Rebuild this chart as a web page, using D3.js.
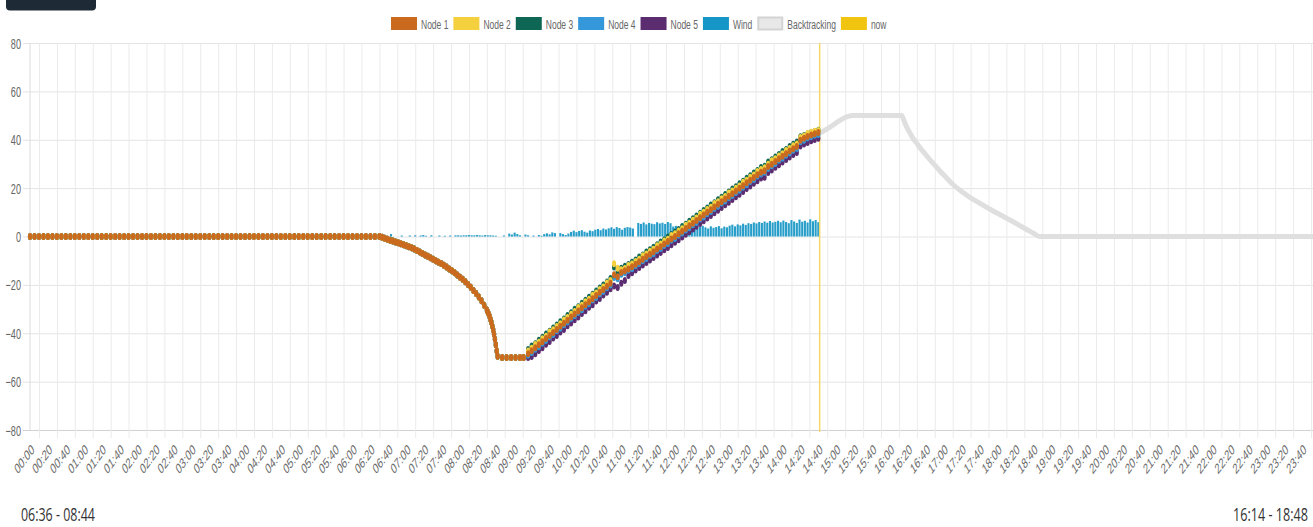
<!DOCTYPE html>
<html><head><meta charset="utf-8">
<script src="https://cdn.jsdelivr.net/npm/d3@7/dist/d3.min.js"></script>
<style>body{margin:0;background:#fff;overflow:hidden}svg{display:block}</style>
</head><body>
<svg id="chart" width="1313" height="527"></svg>
<script>
// ---------------- DATA ----------------
const seriesNames = ["Node 1","Node 2","Node 3","Node 4","Node 5","Wind","Backtracking","now"];
const yTicks = [-80,-60,-40,-20,0,20,40,60,80];
const tickLabels = ["00:00","00:20","00:40","01:00","01:20","01:40","02:00","02:20","02:40","03:00","03:20","03:40",
"04:00","04:20","04:40","05:00","05:20","05:40","06:00","06:20","06:40","07:00","07:20","07:40",
"08:00","08:20","08:40","09:00","09:20","09:40","10:00","10:20","10:40","11:00","11:20","11:40",
"12:00","12:20","12:40","13:00","13:20","13:40","14:00","14:20","14:40","15:00","15:20","15:40",
"16:00","16:20","16:40","17:00","17:20","17:40","18:00","18:20","18:40","19:00","19:20","19:40",
"20:00","20:20","20:40","21:00","21:20","21:40","22:00","22:20","22:40","23:00","23:20","23:40"];

// night stow (all nodes identical), one sample every 5 minutes starting at minute -10
const flatStart = -10, flatStep = 5;
const flatValues = [0,0,0,0,0,0,0,0,0,0, 0,0,0,0,0,0,0,0,0,0, 0,0,0,0,0,0,0,0,0,0,
0,0,0,0,0,0,0,0,0,0, 0,0,0,0,0,0,0,0,0,0, 0,0,0,0,0,0,0,0,0,0, 0,0,0,0,0,0,0,0,0,0, 0,0,0,0,0,0,0,0,0];

// morning backtracking descent (all nodes identical), [minute of day]
const descentMinutes = [383,386,389,392,395,398,401,404,407,410,413,416,419,422,425,428,431,434,437,440,
443,446,449,452,455,458,461,464,467,470,473,476,479,482,485,488,491,494,497,500,
501,502,503,504,505,506,507,508,509,510,511,512,517,522,527,532,537,541];
const descentValues = [-0.3,-0.7,-1.1,-1.5,-1.9,-2.3,-2.6,-3.0,-3.4,-3.8,-4.2,-4.7,-5.2,-5.8,-6.4,-7.0,-7.6,-8.2,-8.8,-9.4,
-10.0,-10.6,-11.2,-11.9,-12.6,-13.4,-14.2,-15.0,-15.9,-16.8,-17.7,-18.7,-19.8,-21.0,-22.3,-23.6,-25.0,-26.6,-28.4,-30.4,
-31.2,-32.0,-33.0,-34.2,-35.5,-37.0,-38.6,-40.4,-42.5,-44.8,-47.3,-49.5,-50,-50,-50,-50,-50,-50];

// tracking phase, one sample every 4 minutes from 09:06
const riseStart = 546, riseStep = 4;
const node1 = [-48.5,-47.2,-46.0,-44.8,-43.5,-42.2,-40.9,-39.7,-38.4,-37.1,
-35.9,-34.6,-33.3,-32.0,-30.8,-29.5,-28.2,-27.0,-25.7,-24.4,
-23.1,-21.9,-20.6,-19.3,-15.8,-16.6,-14.9,-14.2,-13.4,-12.5,
-11.5,-10.4,-9.4,-8.3,-7.3,-6.3,-5.2,-4.2,-3.1,-2.1,
-1.0,0.0,1.1,2.2,3.3,4.4,5.5,6.6,7.8,8.9,
10.0,11.1,12.2,13.3,14.4,15.5,16.6,17.7,18.8,19.9,
21.0,22.2,23.3,24.4,25.5,26.6,27.2,28.9,29.9,31.0,
32.1,33.2,34.2,35.3,36.3,37.2,39.8,40.6,41.3,42.0,
42.5,43.0];
const node2 = [-47.3,-46.2,-44.6,-43.7,-42.3,-41.2,-39.5,-38.6,-37.2,-36.1,
-34.5,-33.5,-32.1,-31.0,-29.4,-28.4,-27.0,-25.9,-24.3,-23.4,
-21.9,-20.9,-19.2,-18.2,-11.3,-13.1,-13.7,-13.2,-12.0,-11.4,
-10.3,-9.4,-8.0,-7.2,-6.1,-5.3,-3.8,-3.1,-1.9,-1.1,
0.4,1.1,2.3,3.2,4.7,5.5,6.7,7.6,9.2,10.0,
11.2,12.1,13.6,14.4,15.6,16.5,18.0,18.8,20.0,20.9,
22.4,23.3,24.5,25.4,26.9,27.7,28.4,29.9,31.3,32.1,
33.3,34.2,35.6,36.4,37.5,38.2,40.9,41.6,42.6,43.1,
43.5,43.8];
const node3 = [-46.7,-45.3,-44.3,-42.9,-41.7,-40.3,-39.2,-37.8,-36.6,-35.2,
-34.1,-32.7,-31.5,-30.1,-29.0,-27.6,-26.4,-25.1,-23.9,-22.5,
-21.3,-20.0,-18.8,-17.4,-12.6,-14.7,-13.1,-12.3,-11.6,-10.6,
-9.7,-8.5,-7.6,-6.4,-5.5,-4.4,-3.4,-2.3,-1.3,-0.2,
0.8,1.9,2.9,4.1,5.1,6.3,7.3,8.5,9.6,10.8,
11.8,13.0,14.0,15.2,16.2,17.4,18.4,19.6,20.6,21.8,
22.8,24.1,25.1,26.3,27.3,28.5,29.0,30.8,31.7,32.9,
33.9,35.1,36.0,37.2,38.1,39.1,41.2,41.8,42.4,43.0,
43.4,43.9];
const node4 = [-49.1,-48.0,-46.6,-45.6,-44.1,-43.0,-41.5,-40.5,-39.0,-37.9,
-36.5,-35.4,-33.9,-32.8,-31.4,-30.3,-28.8,-27.8,-26.3,-25.2,
-23.7,-22.7,-21.2,-20.1,-16.9,-17.5,-15.6,-15.0,-14.0,-13.3,
-12.1,-11.2,-10.0,-9.1,-7.9,-7.1,-5.8,-5.0,-3.7,-2.9,
-1.6,-0.8,0.5,1.4,2.7,3.6,4.9,5.8,7.2,8.1,
9.4,10.3,11.6,12.5,13.8,14.7,16.0,16.9,18.2,19.1,
20.4,21.4,22.7,23.6,24.9,25.8,26.6,28.1,29.3,30.2,
31.5,32.4,33.6,34.5,35.7,36.4,39.2,39.8,40.7,41.2,
41.9,42.2];
const node5 = [-50.0,-49.6,-48.5,-47.1,-46.0,-44.5,-43.4,-42.0,-40.9,-39.5,
-38.4,-36.9,-35.8,-34.4,-33.3,-31.8,-30.7,-29.3,-28.2,-26.7,
-25.6,-24.2,-23.1,-21.6,-20.5,-21.1,-19.3,-18.2,-16.1,-15.0,
-13.9,-12.8,-11.8,-10.7,-9.7,-8.7,-7.6,-6.6,-5.5,-4.5,
-3.4,-2.4,-1.3,-0.2,0.9,2.0,3.1,4.2,5.4,6.5,
7.6,8.7,9.8,10.9,12.0,13.1,14.2,15.3,16.4,17.5,
18.6,19.8,20.9,22.0,23.1,24.2,24.5,26.5,27.5,28.6,
29.7,30.8,31.8,32.9,33.9,34.7,37.4,38.2,38.9,39.6,
40.1,40.6];

// wind, one bar every 3 minutes from 06:33
const windStart = 393, windStep = 3;
const windValues = [1.0,0,0,0,0.4,0,0,0.4,0,0.5, 0,0.4,0.6,0.3,0,0.5,0,0,0.4,0,
0.3,0,0.4,0,0.5,0.5,0.4,0.5,0.5,0.6, 0.5,0.5,0.6,0.5,0.4,0.6,0.5,0.5,0.4,0.3,
0,0,0.4,0,1.2,0.8,1.6,1.0,0.5,0, 0.8,0.5,0,0.4,0,0.6,0.3,1.0,1.3,0.9,
1.7,1.4,0,1.4,1.0,0.6,1.2,1.9,2.4,1.8, 2.3,2.6,2.0,1.6,2.5,2.2,2.8,3.1,2.6,3.3,
2.9,3.4,3.8,3.2,3.9,3.5,2.8,3.6,3.9,3.7, 3.3,0,5.6,5.2,5.8,5.0,5.6,5.3,5.1,5.9,
5.4,5.7,5.2,6.0,5.5,4.1,4.4,3.6,4.3,4.6, 3.9,4.2,3.7,4.1,3.5,4.0,4.4,3.8,3.3,4.2,
3.6,3.9,4.3,3.4,4.1,3.8,4.5,4.9,4.2,5.0, 4.6,5.3,4.8,5.5,5.2,5.8,5.4,6.0,5.6,6.2,
5.7,6.4,5.8,6.1,6.5,5.9,6.6,6.0,5.5,6.8, 6.2,5.6,7.0,6.1,6.5,5.8,7.1,6.3,6.8,5.9];

// forecast backtracking profile after "now"
const backMinutes = [872,880,890,900,908,920,940,963,966,969,972,975,980,985,990,994,1000,1006,1013,1020,
1030,1040,1050,1060,1070,1080,1087,1095,1102,1110,1117,1200,1300,1422];
const backValues = [42.8,44.5,47.0,49.2,50,50,50,50,47.5,45.0,43.0,41.0,38.5,36.0,33.8,32.0,29.5,27.0,24.3,21.6,
18.6,16.0,13.8,11.6,9.6,7.6,6.2,4.5,3.0,1.4,0,0,0,0];

const nowMinute = 871.5;
const rangeLeft = "06:36 - 08:44";
const rangeRight = "16:14 - 18:48";

// ---------------- STYLE ----------------
const colors = {"Node 1":"#c96a1f","Node 2":"#f4d03f","Node 3":"#0e6655","Node 4":"#3498db","Node 5":"#5b2c6f",
  "Wind":"#1596c6","Backtracking":"#e3e3e3","now":"#f1c40f"};
const SQ = 0.63;           // horizontal text compression of the reference
const FONT = "'Liberation Sans', Arial, sans-serif";

const svg = d3.select("#chart");
const W = 1313;
const x = d3.scaleLinear().domain([0, 1420]).range([39, 1311]);
const y = d3.scaleLinear().domain([-80, 80]).range([430, 43]);
const toMin = s => { const [h, m] = s.split(":").map(Number); return h * 60 + m; };

// top-left dark tab
svg.append("rect").attr("x", 6).attr("y", -8).attr("width", 90).attr("height", 18.5).attr("rx", 4)
  .attr("fill", "#1e2a36");

// y axis + horizontal grid
const yAxis = svg.append("g").attr("transform", "translate(30,0)")
  .call(d3.axisLeft(y).tickValues(yTicks).tickSize(-(W - 30)));
yAxis.select(".domain").remove();
yAxis.selectAll(".tick line").attr("x1", -7).attr("stroke", d => d === -80 ? "#d2d2d2" : "#e4e4e4").attr("stroke-width", 1);
yAxis.selectAll(".tick text").attr("x", null).attr("dy", null)
  .attr("transform", "translate(-9,5) scale(" + SQ + ",1)")
  .attr("font-size", 14.5).attr("font-family", FONT).attr("fill", "#666").attr("text-anchor", "end");

// x axis + vertical grid
const tickMinutes = tickLabels.map(toMin);
const xAxis = svg.append("g").attr("transform", "translate(0,430)")
  .call(d3.axisBottom(x).tickValues(tickMinutes).tickSize(0).tickFormat(""));
xAxis.select(".domain").remove();
xAxis.selectAll(".tick line").attr("y1", -(430 - 43)).attr("y2", 8).attr("stroke", "#ebebeb").attr("stroke-width", 1);
xAxis.selectAll(".tick text").remove();
svg.append("line").attr("x1", 30).attr("x2", 30).attr("y1", 43).attr("y2", 430).attr("stroke", "#dcdcdc");

const xl = svg.append("g");
tickLabels.forEach((lab, i) => {
  xl.append("text").text(lab)
    .attr("transform", `translate(${x(tickMinutes[i]) - 4},451) scale(${SQ},1) rotate(-41)`)
    .attr("text-anchor", "end").attr("font-size", 14.5).attr("font-family", FONT).attr("fill", "#6a6a6a");
});

// wind bars
const windMinutes = windValues.map((v, i) => windStart + i * windStep);
const bw = (x(windStep) - x(0)) * 0.78;
svg.append("g").selectAll("rect").data(windValues).join("rect")
  .attr("x", (d, i) => x(windMinutes[i]) - bw / 2).attr("width", bw)
  .attr("y", d => y(Math.max(d, 0))).attr("height", d => Math.abs(y(0) - y(d)))
  .attr("fill", colors["Wind"]).attr("opacity", 0.92);

// backtracking forecast
svg.append("path").datum(backValues)
  .attr("d", d3.line().curve(d3.curveMonotoneX).x((d, i) => x(backMinutes[i])).y(d => y(d)))
  .attr("fill", "none").attr("stroke", "#dfdfdf").attr("stroke-width", 5)
  .attr("stroke-linejoin", "round").attr("stroke-linecap", "round");

// now line
svg.append("line").attr("x1", x(nowMinute)).attr("x2", x(nowMinute)).attr("y1", 43).attr("y2", 432)
  .attr("stroke", "#f5d66a").attr("stroke-width", 1.5);

// nodes (node 1 drawn last = on top)
const flatMinutes = flatValues.map((v, i) => flatStart + i * flatStep);
const riseMinutes = node1.map((v, i) => riseStart + i * riseStep);
const nodeSeries = [node1, node2, node3, node4, node5];
for (let k = 4; k >= 0; k--) {
  const pts = [];
  flatValues.forEach((v, i) => pts.push([flatMinutes[i], v]));
  descentValues.forEach((v, i) => pts.push([descentMinutes[i], v]));
  nodeSeries[k].forEach((v, i) => pts.push([riseMinutes[i], v]));
  svg.append("g").selectAll("ellipse").data(pts).join("ellipse")
    .attr("cx", d => x(d[0])).attr("cy", d => y(d[1]))
    .attr("rx", 2.1).attr("ry", 3.5)
    .attr("fill", colors[seriesNames[k]]);
}

// legend
const lg = svg.append("g");
let lx = 391;
seriesNames.forEach(name => {
  const isBack = name === "Backtracking";
  lg.append("rect").attr("x", lx + (isBack ? 1 : 0)).attr("y", isBack ? 17.5 : 17)
    .attr("width", isBack ? 24 : 26).attr("height", isBack ? 12 : 13)
    .attr("fill", isBack ? "#e8e8e8" : colors[name])
    .attr("stroke", isBack ? "#d3d3d3" : "none").attr("stroke-width", isBack ? 2 : 0);
  const t = lg.append("text").text(name)
    .attr("transform", `translate(${lx + 30},28.5) scale(${SQ},1)`)
    .attr("font-size", 13.5).attr("font-family", FONT).attr("fill", "#666");
  const w = t.node().getComputedTextLength() * SQ;
  lx += 30 + w + 5;
});

// bottom range labels (horizontally compressed like the reference)
function rangeLabel(txt, xPos, anchor, targetW) {
  const t = svg.append("text").text(txt)
    .attr("font-size", 19).attr("font-family", "'Open Sans', sans-serif").attr("fill", "#333")
    .attr("text-anchor", anchor);
  const s = targetW / t.node().getComputedTextLength();
  t.attr("transform", `translate(${xPos},521) scale(${s},1)`);
}
rangeLabel(rangeLeft, 21, "start", 74);
rangeLabel(rangeRight, 1308, "end", 75);
</script>
</body></html>
